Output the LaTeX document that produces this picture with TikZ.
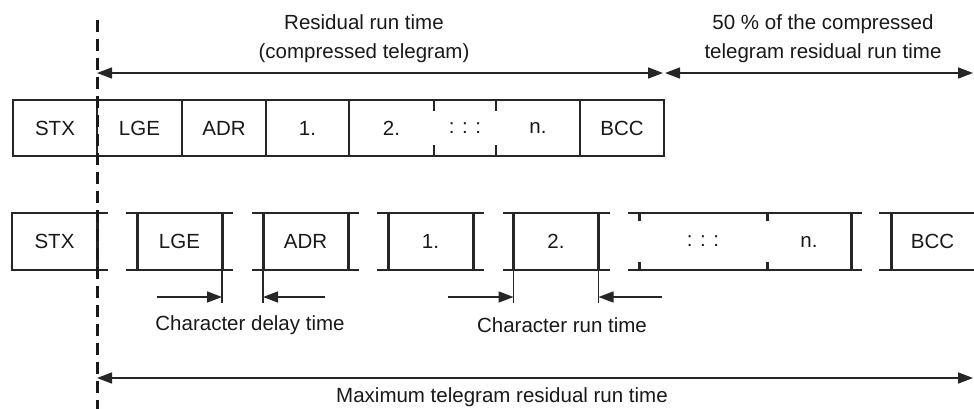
\documentclass[tikz,border=0pt]{standalone}
\usepackage{fontspec}
\setmainfont{Liberation Sans}
\usetikzlibrary{positioning,arrows.meta}

\begin{document}
\begin{tikzpicture}[x=1pt, y=-1pt, font=\fontsize{20.5}{29}\selectfont,
    every node/.style={inner sep=0pt, outer sep=0pt, text=black!90},
    cell/.style={minimum height=56pt},
    frame/.style={line width=1.6pt, draw=black!85},
    heavy/.style={line width=3pt, draw=black!85},
    marker/.style={line width=3pt, draw=black!90, dash pattern=on 12pt off 7pt},
    span/.style={line width=1.6pt, draw=black!85, {Triangle[length=15pt,width=11pt]}-{Triangle[length=15pt,width=11pt]}},
    onearrow/.style={line width=1.6pt, draw=black!85, -{Triangle[length=15pt,width=11pt]}}]
        \useasboundingbox (0,0) rectangle (974,409);

        % Compressed telegram (top row)
        \node[cell, minimum width=84pt] (stxA) at (55,128) {STX};
        \node[cell, minimum width=85pt, right=0pt of stxA] (lgeA) {LGE};
        \node[cell, minimum width=84pt, right=0pt of lgeA] (adrA) {ADR};
        \node[cell, minimum width=83pt, right=0pt of adrA] (oneA) {1.};
        \node[cell, minimum width=85pt, right=0pt of oneA] (twoA) {2.};
        \node[cell, minimum width=62pt, right=0pt of twoA] (dotsA) {: : :};
        \node[cell, minimum width=84pt, right=0pt of dotsA] (nA) {n.};
        \node[cell, minimum width=84pt, right=0pt of nA] (bccA) {BCC};

        \draw[frame] (stxA.north west) rectangle (bccA.south east);
        \foreach \c in {stxA,lgeA,adrA,oneA,nA}
          \draw[frame] (\c.north east) -- (\c.south east);
        \foreach \c in {twoA,dotsA} {
          \draw[frame] (\c.north east) -- ++(0,11);
          \draw[frame] (\c.south east) -- ++(0,-11);
        }

        % Telegram with gaps between the characters (bottom row)
        \node[cell, minimum width=85pt, minimum height=57pt] (stxB) at (54.5,241.5) {STX};
        \draw[frame] ([xshift=11pt]stxB.north east) -- (stxB.north west)
          -- (stxB.south west) -- ([xshift=11pt]stxB.south east);
        \draw[heavy] (stxB.north east) -- (stxB.south east);

        \foreach \nm/\cx/\tx in {lgeB/179.5/LGE, adrB/305.5/ADR, oneB/430.5/1., twoB/556/2.} {
          \node[cell, minimum width=85pt, minimum height=57pt] (\nm) at (\cx,241.5) {\tx};
          \draw[frame] ([xshift=-11pt]\nm.north west) -- ([xshift=11pt]\nm.north east);
          \draw[frame] ([xshift=-11pt]\nm.south west) -- ([xshift=11pt]\nm.south east);
          \draw[heavy] (\nm.north west) -- (\nm.south west);
          \draw[heavy] (\nm.north east) -- (\nm.south east);
        }

        \node[cell, minimum width=128pt, minimum height=57pt] (dotsB) at (703,241.5) {: : :};
        \node[cell, minimum width=84pt, minimum height=57pt, right=0pt of dotsB] (nB) {n.};
        \draw[frame] ([xshift=-11pt]dotsB.north west) -- ([xshift=11pt]nB.north east);
        \draw[frame] ([xshift=-11pt]dotsB.south west) -- ([xshift=11pt]nB.south east);
        \foreach \a in {dotsB.west,dotsB.east} {
          \draw[heavy] (\a |- dotsB.north) -- ++(0,8);
          \draw[heavy] (\a |- dotsB.south) -- ++(0,-8);
        }
        \draw[heavy] (nB.north east) -- (nB.south east);

        \node[cell, minimum width=83pt, minimum height=57pt] (bccB) at (932.5,241.5) {BCC};
        \draw[frame] ([xshift=-12pt]bccB.north west) -- (bccB.north east);
        \draw[frame] ([xshift=-12pt]bccB.south west) -- (bccB.south east);
        \draw[heavy] (bccB.north west) -- (bccB.south west);

        % Start of the residual run time
        \coordinate (markT) at (97,20);
        \coordinate (markB) at (97,409);
        \draw[marker] (markT) -- (markB);

        % Run times above the compressed telegram
        \coordinate (resL) at (97,73);
        \coordinate (resR) at (663,73);
        \coordinate (halfL) at (665,73);
        \coordinate (halfR) at (973,73);
        \draw[span] (resL) -- (resR);
        \draw[span] (halfL) -- (halfR);
        \node[align=center] (resText) at (364,39) {Residual run time\\(compressed telegram)};
        \node[align=center] (halfText) at (823,39) {50 \% of the compressed\\telegram residual run time};

        % Character delay time and character run time
        \foreach \a in {lgeB.south east,adrB.south west,twoB.south west,twoB.south east}
          \draw[frame] (\a) -- ++(0,33);
        \coordinate (dlyL) at (157,297);
        \coordinate (dlyR) at (325,297);
        \coordinate (runL) at (448,297);
        \coordinate (runR) at (662,297);
        \draw[onearrow] (dlyL) -- (dlyL -| lgeB.east);
        \draw[onearrow] (dlyR) -- (dlyR -| adrB.west);
        \draw[onearrow] (runL) -- (runL -| twoB.west);
        \draw[onearrow] (runR) -- (runR -| twoB.east);
        \node (dlyText) at (250,325) {Character delay time};
        \node (runText) at (562,325) {Character run time};

        % Maximum residual run time
        \coordinate (maxL) at (97,378);
        \coordinate (maxR) at (973,378);
        \draw[span] (maxL) -- (maxR);
        \node (maxText) at (502,397) {Maximum telegram residual run time};
      \end{tikzpicture}
\end{document}
